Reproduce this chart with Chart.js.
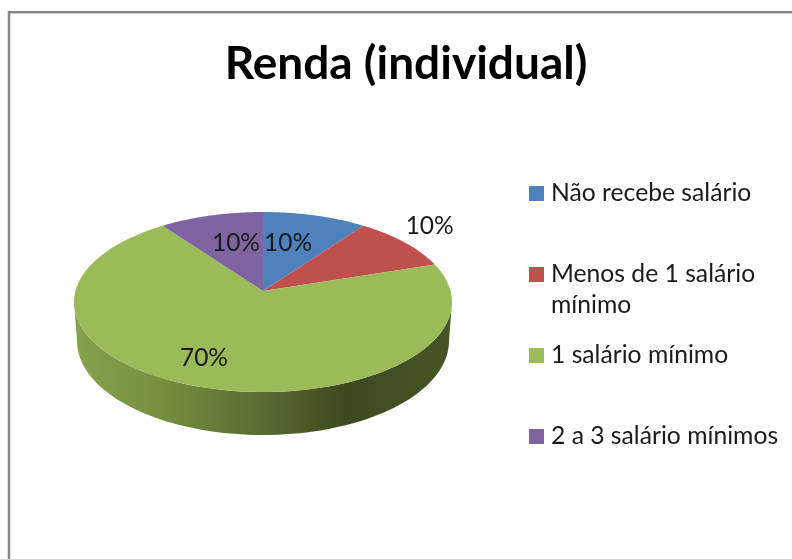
<!DOCTYPE html>
<html><head><meta charset="utf-8">
<style>html,body{margin:0;padding:0;background:#fff;overflow:hidden}
#w{width:792px;height:559px}canvas{display:block;filter:blur(0.55px)}</style>
<script src="https://cdn.jsdelivr.net/npm/chart.js@4"></script></head>
<body><div id="w"><canvas id="c" width="792" height="559"></canvas></div>
<script>
const chartTitle = 'Renda (individual)';
const categories = ['Não recebe salário','Menos de 1 salário mínimo','1 salário mínimo','2 a 3 salário mínimos'];
const legendLines = [['Não recebe salário'],['Menos de 1 salário','mínimo'],['1 salário mínimo'],['2 a 3 salário mínimos']];
const values = [10,10,70,10];
const percentLabels = ['10%','10%','70%','10%'];
const colors = ['#4F81BD','#C0504D','#9BBB59','#8064A2'];
// label placement relative to the slice: radius fraction, degrees from the mid-angle
const labelRadius = [0.6,1.26,0.75,0.6];
const labelTurn = [-4.2,-3.3,4.6,3.1];

const FONT = 'Lato, "Open Sans", sans-serif';
const SQUASH = 90/189, TILT = -0.122, DEPTH = 39, BOTTOM_SHRINK = 186/189, BOTTOM_SQUASH = 94/186;
const AREA = {left:74,right:452,top:113,bottom:491};

// perspective projection of a unit-disc point
function project(a,r,u,v){
  const d = 1+TILT*v, k = Math.sqrt(1-TILT*TILT);
  return {x:a.x+a.outerRadius*u*k/d, y:a.y+a.outerRadius*SQUASH*(v+TILT)/d};
}
function polar(a,r,ang){return project(a,r,r*Math.cos(ang),r*Math.sin(ang));}

const pie3d = {
  id:'pie3d',
  beforeDraw(chart){
    const c = chart.ctx;
    c.save();c.fillStyle='#fff';c.fillRect(0,0,chart.width,chart.height);
    c.strokeStyle='#868686';c.lineWidth=2.5;c.strokeRect(9,12.2,chart.width+40,chart.height+40);c.restore();
  },
  afterLayout(chart){
    Object.assign(chart.chartArea,AREA,{width:AREA.right-AREA.left,height:AREA.bottom-AREA.top});
  },
  beforeDatasetDraw(chart,args){
    const c = chart.ctx, arcs = args.meta.data;
    const a0 = arcs[0], R = a0.outerRadius;
    const g = c.createLinearGradient(a0.x-R+2,0,a0.x+R-2,0);
    [[0,'#86A24D'],[0.22,'#76903F'],[0.5,'#586C32'],[0.72,'#3D4A20'],[1,'#465426']].forEach(s=>g.addColorStop(s[0],s[1]));
    // side wall, only the front half of each slice
    arcs.forEach((a)=>{
      const s = Math.max(a.startAngle,0), e = Math.min(a.endAngle,Math.PI);
      if(e<=s) return;
      c.beginPath();
      const N=80;
      for(let i=0;i<=N;i++){const t=s+(e-s)*i/N;
        const x=a.x+R*Math.cos(t), y=a.y+R*SQUASH*Math.sin(t);
        i?c.lineTo(x,y):c.moveTo(x,y);}
      for(let i=N;i>=0;i--){const t=s+(e-s)*i/N;
        c.lineTo(a.x+R*BOTTOM_SHRINK*Math.cos(t), a.y+DEPTH+R*BOTTOM_SHRINK*BOTTOM_SQUASH*Math.sin(t));}
      c.closePath();c.fillStyle=g;c.fill();
    });
    // top face, from the library's computed arc angles
    arcs.forEach((a,i)=>{
      c.beginPath();
      const ap=polar(a,0,0);c.moveTo(ap.x,ap.y);
      const N=90;
      for(let k=0;k<=N;k++){
        const t=a.startAngle+(a.endAngle-a.startAngle)*k/N, p=polar(a,1,t);
        c.lineTo(p.x,p.y);
      }
      c.closePath();c.fillStyle=a.options.backgroundColor;c.fill();
    });
    // percentage labels
    c.save();c.font='24.5px '+FONT;c.fillStyle='#1a1a1a';c.textAlign='center';c.textBaseline='middle';
    arcs.forEach((a,i)=>{
      const mid=(a.startAngle+a.endAngle)/2+labelTurn[i]*Math.PI/180;
      const p=polar(a,labelRadius[i],mid);
      c.fillText(percentLabels[i],p.x,p.y);
    });
    c.restore();
    return false;
  },
  afterDraw(chart){
    const c = chart.ctx;
    c.save();c.font='24.7px '+FONT;c.textBaseline='middle';c.textAlign='left';
    legendLines.forEach((lines,i)=>{
      const y=193.5+i*81;
      c.fillStyle=colors[i];c.fillRect(529,y-7.5,15,15);
      c.fillStyle='#1a1a1a';
      lines.forEach((t,j)=>c.fillText(t,551,y+j*31));
    });
    c.restore();
  }
};

new Chart(document.getElementById('c'),{
  type:'pie',
  data:{labels:categories,datasets:[{data:values,backgroundColor:colors,borderWidth:0}]},
  options:{
    responsive:false,animation:false,
    layout:{padding:{left:20,right:0,top:0,bottom:0}},
    plugins:{
      legend:{display:false},tooltip:{enabled:false},
      title:{display:true,text:chartTitle,color:'#000',
        font:{family:FONT,size:46,weight:'bold',lineHeight:1.2},padding:{top:37,bottom:0}}
    }
  },
  plugins:[pie3d]
});
</script></body></html>
